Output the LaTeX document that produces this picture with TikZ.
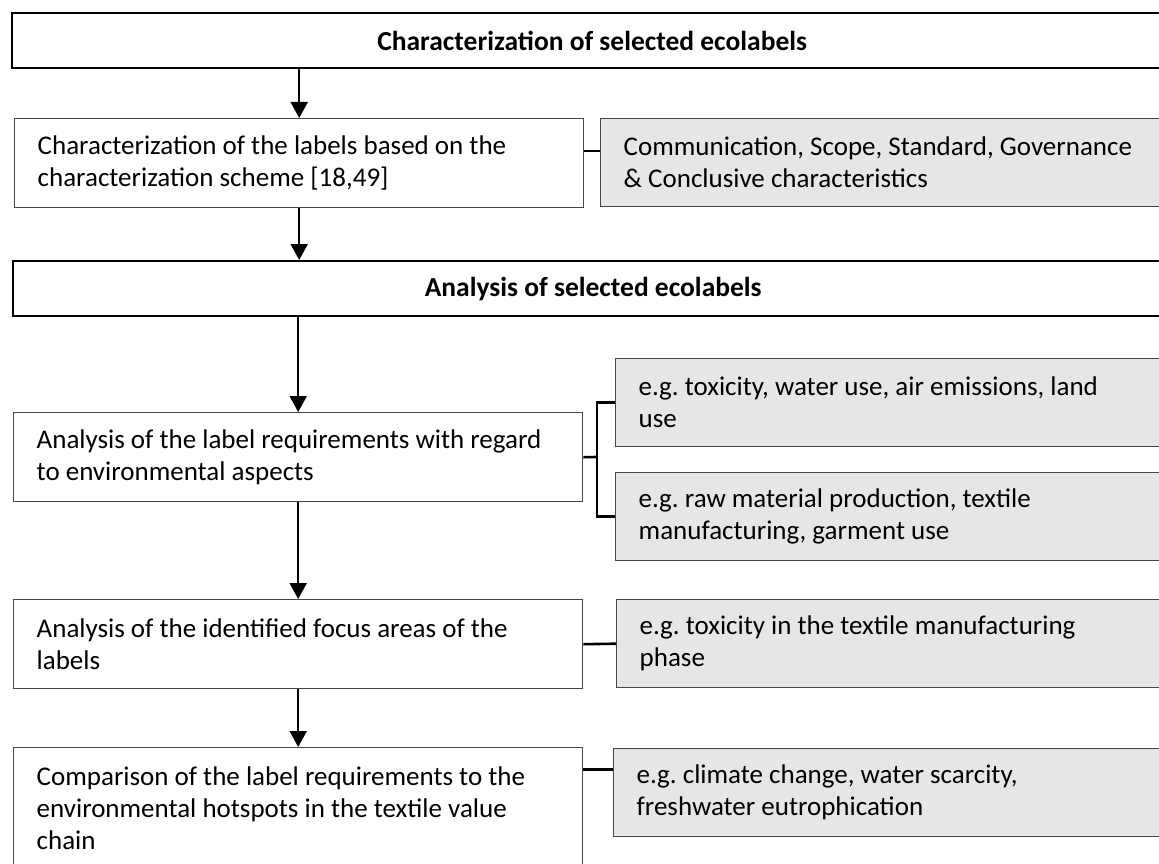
\documentclass[tikz,border=0pt]{standalone}
\usepackage{fontspec}
\setmainfont{Carlito}
\frenchspacing
\usetikzlibrary{arrows.meta}
\definecolor{notegray}{RGB}{231,230,230}
\definecolor{framegray}{RGB}{70,70,70}

\begin{document}
\begin{tikzpicture}[x=1pt, y=-1pt,
  every node/.style={font=\fontsize{27}{32}\selectfont, inner ysep=0pt},
  banner/.style={draw=black, line width=2.4pt, fill=white, anchor=north west,
    minimum width=1160pt, minimum height=55pt, font=\fontsize{27.5}{32}\selectfont\bfseries},
  stepbox/.style={draw=framegray, line width=1.4pt, fill=white, anchor=north west,
    text width=523pt, inner xsep=23pt, minimum height=89pt, align=flush left},
  notebox/.style={draw=framegray, line width=1.4pt, fill=notegray, anchor=north west,
    text width=560pt, inner xsep=23pt, minimum height=88pt, align=flush left},
  flow/.style={black, line width=2pt, -{Triangle[width=17pt,length=16pt]}},
  link/.style={black, line width=2.6pt}]
\useasboundingbox (0,0) rectangle (1159,864);
\clip (0,0) rectangle (1159,864);

% characterization
\node[banner] (charhead) at (11,12) {Characterization of selected ecolabels};
\node[stepbox] (charstep) at (14,118) {Characterization of the labels based on the\\characterization scheme [18,49]};
\node[notebox] (charnote) at (600,118) {Communication, Scope, Standard, Governance\\\& Conclusive characteristics};

% analysis
\node[banner] (anahead) at (12,260) {Analysis of selected ecolabels};
\node[stepbox] (envstep) at (13,412) {Analysis of the label requirements with regard\\to environmental aspects};
\node[notebox] (aspnote) at (615,358) {e.g. toxicity, water use, air emissions, land\\use};
\node[notebox] (phasenote) at (615,472) {e.g. raw material production, textile\\manufacturing, garment use};
\node[stepbox] (focusstep) at (13,599) {Analysis of the identified focus areas of the\\labels};
\node[notebox] (focusnote) at (616,599) {e.g. toxicity in the textile manufacturing\\phase};
\node[stepbox, minimum height=121pt] (hotstep) at (13,747) {Comparison of the label requirements to the\\environmental hotspots in the textile value\\chain};
\node[notebox] (hotnote) at (613,748) {e.g. climate change, water scarcity,\\freshwater eutrophication};

% arrows down the left column
\draw[flow] (charstep.north |- charhead.south) -- (charstep.north);
\draw[flow] (charstep.south) -- (charstep.south |- anahead.north);
\draw[flow] (envstep.north |- anahead.south) -- (envstep.north);
\draw[flow] (envstep.south) -- (focusstep.north);
\draw[flow] (focusstep.south) -- (hotstep.north);

% side links
\draw[link] ([yshift=12pt]charstep.east) -- ([yshift=12pt]charstep.east -| charnote.west);
\coordinate (fork) at (597,457);
\draw[link] (envstep.east) -- (fork);
\draw[link] (aspnote.west) -| (fork) |- (phasenote.west);
\draw[link] (focusstep.east) -- (focusnote.west);
\draw[link] ([yshift=23pt]hotnote.west) -- ([yshift=23pt]hotnote.west -| hotstep.east);
\end{tikzpicture}
\end{document}
